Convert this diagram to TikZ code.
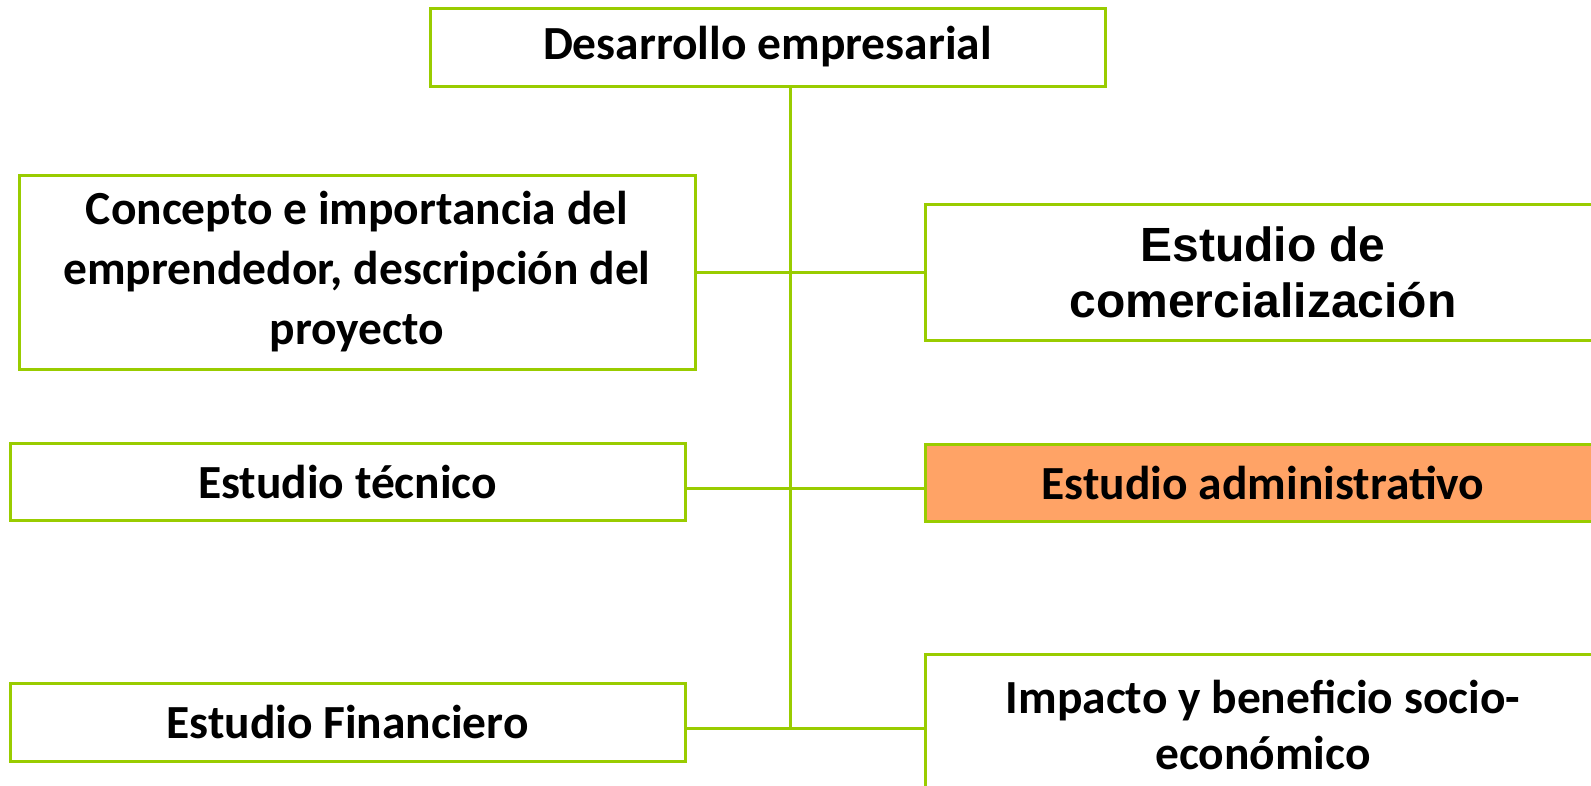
\documentclass[tikz,border=0pt]{standalone}
\usepackage{fontspec}
\setmainfont{Carlito}
\newfontfamily\arialfont{Liberation Sans}
\definecolor{verde}{RGB}{153,204,0}
\definecolor{naranja}{RGB}{255,163,102}
\tikzset{
  caja/.style={draw=verde, line width=3pt, fill=white, inner sep=0pt,
    align=center, font=\bfseries\fontsize{47.5}{60}\selectfont},
  linea/.style={draw=verde, line width=3pt}
}
\begin{document}
\begin{tikzpicture}[x=1pt,y=-1pt]
\useasboundingbox (0,0) rectangle (1591,785);

% left column
\node[caja, minimum width=676pt, minimum height=194pt] (concepto) at (357,272)
  {Concepto e importancia del\\emprendedor, descripción del\\proyecto};
\node[caja, minimum width=675pt, minimum height=77pt] (tecnico) at (347.5,482)
  {Estudio técnico};
\node[caja, minimum width=675pt, minimum height=78pt] (financiero) at (347.5,722)
  {Estudio Financiero};

% right column
\node[caja, minimum width=676pt, minimum height=136pt,
  font=\arialfont\bfseries\fontsize{48}{56}\selectfont] (comercial) at (1263,272)
  {Estudio de\\comercialización};
\node[caja, fill=naranja, minimum width=676pt, minimum height=77pt] (admin) at (1263,482.5)
  {Estudio administrativo};
\node[caja, minimum width=676pt, minimum height=142pt,
  font=\bfseries\fontsize{47.5}{56}\selectfont] (impacto) at (1263,725)
  {Impacto y beneficio socio-\\económico};

% connectors
\coordinate (tronco) at (790,728);
\draw[linea] (concepto.east) -- (concepto.east -| comercial.west);
\draw[linea] ([yshift=-6pt]tecnico.east) -- ([yshift=-6pt]tecnico.east -| admin.west);
\draw[linea] ([yshift=-6pt]financiero.east) -- ([yshift=-6pt]financiero.east -| impacto.west);

% top
\node[caja, minimum width=675pt, minimum height=78pt] (desarrollo) at (767.5,47)
  {Desarrollo empresarial};
\draw[linea] (desarrollo.south -| tronco) -- (tronco);
\end{tikzpicture}
\end{document}
